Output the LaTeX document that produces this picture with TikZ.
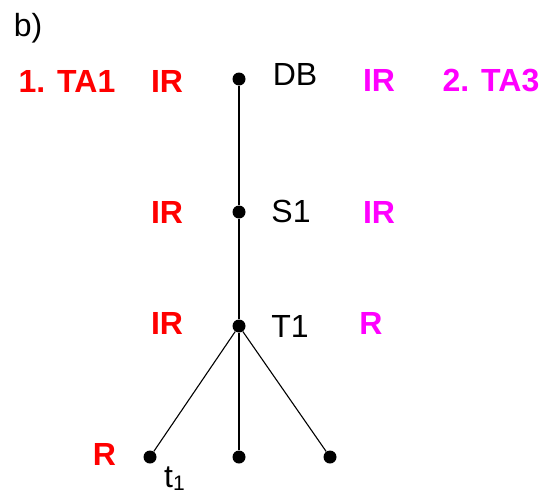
\documentclass[tikz,border=0pt]{standalone}
\usepackage{fontspec}
\setmainfont{Liberation Sans}
\usetikzlibrary{positioning}
\definecolor{tared}{RGB}{255,0,0}
\definecolor{tamag}{RGB}{255,0,255}

\begin{document}
\begin{tikzpicture}[x=1pt,
            y=-1pt,
            dot/.style={circle,fill=black,inner sep=0pt,minimum size=13pt},
            lbl/.style={inner sep=0pt,anchor=base,font=\fontsize{32}{38}\selectfont},
            one/.style={lbl,text=tared,font=\fontsize{32}{38}\selectfont\bfseries},
            two/.style={lbl,text=tamag,font=\fontsize{32}{38}\selectfont\bfseries},
            trunk/.style={line width=2.2pt},
            twig/.style={line width=1.1pt}]

        \useasboundingbox (0,0) rectangle (552,493);

        \node[dot] (db) at (239,79)  {};
        \node[dot] (s1) at (239,212) {};
        \node[dot] (t1) at (239,326) {};
        \node[dot] (tl) at (150,457) {};
        \node[dot] (tm) at (239,457) {};
        \node[dot] (tr) at (330,457) {};

        \path (db) edge [trunk] (s1)
              (s1) edge [trunk] (t1)
              (t1) edge [trunk] (tm)
                   edge [twig]  (tl)
                   edge [twig]  (tr);

        \node[lbl] (b)    at (28,36)   {b)};

        \node[one] (ta1)  at (67,92)   {1. TA1};
        \node[one] (irdb) at (167,92)  {IR};
        \node[lbl] (ndb)  at (295,85)  {DB};
        \node[two] (irdb2) at (379,91) {IR};
        \node[two] (ta3)  at (491,91)  {2. TA3};

        \node[one] (irs1) at (167,223) {IR};
        \node[lbl] (ns1)  at (291,222) {S1};
        \node[two] (irs2) at (379,223) {IR};

        \node[one] (irt1) at (167,334) {IR};
        \node[lbl] (nt1)  at (290,337) {T1};
        \node[two] (rt2)  at (371,334) {R};

        \node[one] (rtl)  at (104.5,465) {R};
        \node[lbl,anchor=base west] (ntl) at (164,487)
            {t\raisebox{-3pt}{\fontsize{21}{25}\selectfont 1}};

    \end{tikzpicture}
\end{document}
